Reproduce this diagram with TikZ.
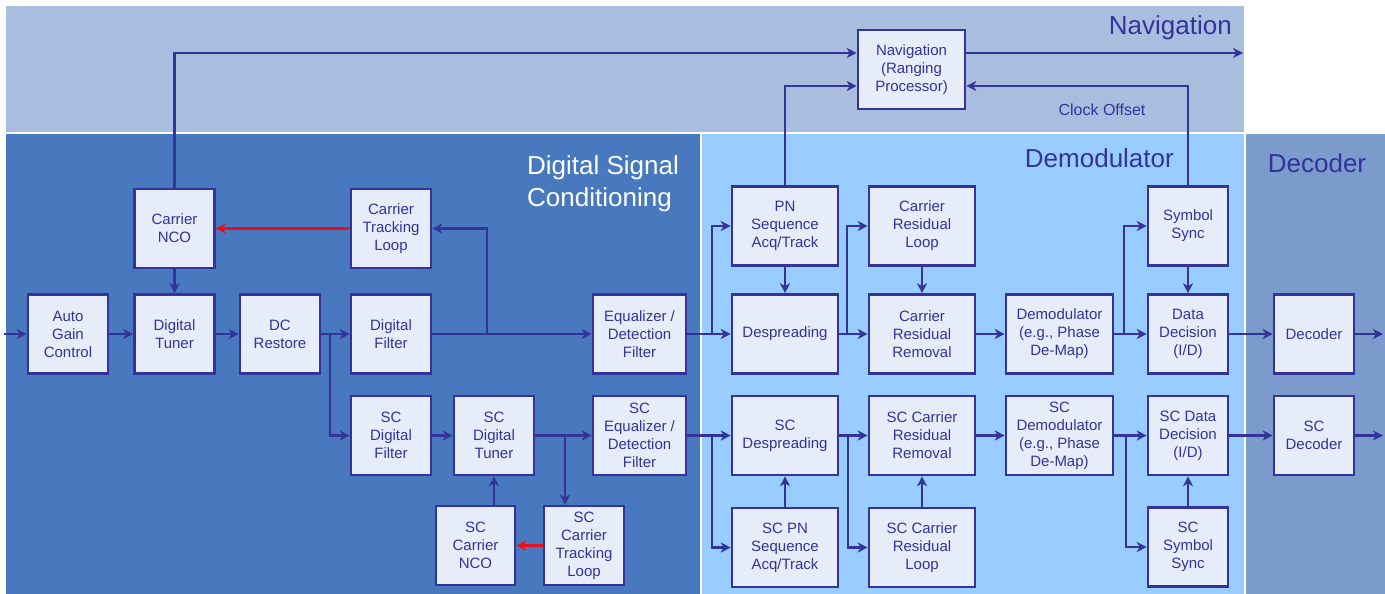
\documentclass[tikz,border=0pt]{standalone}
\usepackage{fontspec}
\setmainfont{Liberation Sans}
\usetikzlibrary{arrows.meta}
\definecolor{navband}{HTML}{A9BEDF}
\definecolor{dscband}{HTML}{4879BF}
\definecolor{demband}{HTML}{99CCFF}
\definecolor{decband}{HTML}{7A9BCB}
\definecolor{boxfill}{HTML}{E6ECF8}
\definecolor{lineblue}{HTML}{333399}
\definecolor{arrowred}{HTML}{E8101A}
\begin{document}
\begin{tikzpicture}[x=1pt,y=-1pt,
  box/.style={draw=lineblue, line width=2.6pt, fill=boxfill, text=lineblue, align=center,
    minimum height=79pt, minimum width=80pt, inner sep=1pt, font=\fontsize{15}{18}\selectfont},
  wbox/.style={box, minimum width=106pt},
  conn/.style={draw=lineblue, line width=2.3pt, -{Stealth[length=10pt,width=10pt,inset=3pt]}},
  redconn/.style={draw=arrowred, line width=2.3pt, -{Stealth[length=10pt,width=10pt,inset=3pt]}},
  band/.style={font=\fontsize{26}{32}\selectfont, inner sep=0pt}]
% backgrounds
\fill[white] (0,0) rectangle (1385,594);
\useasboundingbox (0,0) rectangle (1385,594);
\fill[navband] (6,6) rectangle (1244,132);
\fill[dscband] (6,134) rectangle (700,594);
\fill[demband] (702,134) rectangle (1244,594);
\fill[decband] (1246,134) rectangle (1385,594);
% band labels
\node[band, text=lineblue, anchor=base east] (lnav) at (1232,35) {Navigation};
\node[band, text=white, anchor=north west, align=left] (ldsc) at (527,155) {Digital Signal\\Conditioning};
\node[band, text=lineblue, anchor=base east] (ldem) at (1174,167) {Demodulator};
\node[band, text=lineblue, anchor=base] (ldec) at (1317,172) {Decoder};
% boxes
\node[box] (agc) at (68,334) {Auto\\Gain\\Control};
\node[box] (dt) at (174.5,334) {Digital\\Tuner};
\node[box] (dcr) at (280,334) {DC\\Restore};
\node[box] (df) at (391,334) {Digital\\Filter};
\node[box, minimum width=93pt] (eq) at (639.5,334) {Equalizer /\\Detection\\Filter};
\node[box] (cnco) at (174.5,228.5) {Carrier\\NCO};
\node[box] (ctl) at (391,228.5) {Carrier\\Tracking\\Loop};
\node[box] (scdf) at (391,435.5) {SC\\Digital\\Filter};
\node[box] (scdt) at (494,435.5) {SC\\Digital\\Tuner};
\node[box, minimum width=93pt] (sceq) at (639.5,435.5) {SC\\Equalizer /\\Detection\\Filter};
\node[box, minimum width=79pt] (scnco) at (475.5,545.5) {SC\\Carrier\\NCO};
\node[box] (scctl) at (584,545.5) {SC\\Carrier\\Tracking\\Loop};
\node[wbox] (pn) at (785,226) {PN\\Sequence\\Acq/Track};
\node[wbox] (desp) at (785,334) {Despreading};
\node[wbox] (scdesp) at (785,435.5) {SC\\Despreading};
\node[wbox] (scpn) at (785,547.5) {SC PN\\Sequence\\Acq/Track};
\node[wbox] (crl) at (922,226) {Carrier\\Residual\\Loop};
\node[wbox] (crr) at (922,334) {Carrier\\Residual\\Removal};
\node[wbox] (sccrr) at (922,435.5) {SC Carrier\\Residual\\Removal};
\node[wbox] (sccrl) at (922,547.5) {SC Carrier\\Residual\\Loop};
\node[wbox, minimum width=107pt] (dem) at (1059.5,334) {Demodulator\\(e.g., Phase\\De-Map)};
\node[wbox, minimum width=107pt] (scdem) at (1059.5,435.5) {SC\\Demodulator\\(e.g., Phase\\De-Map)};
\node[box] (ss) at (1188,226) {Symbol\\Sync};
\node[box] (dd) at (1188,334) {Data\\Decision\\(I/D)};
\node[box] (scdd) at (1188,435.5) {SC Data\\Decision\\(I/D)};
\node[box] (scss) at (1188,547) {SC\\Symbol\\Sync};
\node[box] (dec) at (1314,334) {Decoder};
\node[box] (scdec) at (1314,435.5) {SC\\Decoder};
\node[wbox, minimum width=107pt] (nav) at (911.5,69.5) {Navigation\\(Ranging\\Processor)};
\node[text=lineblue, font=\fontsize{16}{18}\selectfont] (clk) at (1102,110) {Clock Offset};
% free ends and branch points
\coordinate (in) at (4,334);
\coordinate (navout) at (1243,53);
\coordinate (decout) at (1383,334);
\coordinate (scdecout) at (1383,435.5);
\coordinate (b1) at (330,334);
\coordinate (b2) at (487,334);
\coordinate (b3) at (565,435.5);
\coordinate (b4) at (712,334);
\coordinate (b5) at (712,435.5);
\coordinate (b6) at (847,334);
\coordinate (b7) at (848,435.5);
\coordinate (b8) at (1124,334);
\coordinate (b9) at (1126,435.5);
% main path
\draw[conn] (in) -- (agc);
\draw[conn] (agc) -- (dt);
\draw[conn] (dt) -- (dcr);
\draw[conn] (dcr) -- (df);
\draw[conn] (b1) |- (scdf);
\draw[conn] (df) -- (eq);
\draw[conn] (b2) |- (ctl);
\draw[redconn] (ctl) -- (cnco);
\draw[conn] (cnco) -- (dt);
\draw[conn] (cnco.north) |- ([yshift=16.5pt]nav.west);
\draw[conn] ([yshift=16.5pt]nav.east) -- (navout);
\draw[conn] (pn.north) |- ([yshift=-16.5pt]nav.west);
\draw[conn] (ss.north) |- ([yshift=-16.5pt]nav.east);
\draw[conn] (eq) -- (desp);
\draw[conn] (b4) |- (pn);
\draw[conn] (pn) -- (desp);
\draw[conn] (desp) -- (crr);
\draw[conn] (b6) |- (crl);
\draw[conn] (crl) -- (crr);
\draw[conn] (crr) -- (dem);
\draw[conn] (dem) -- (dd);
\draw[conn] (b8) |- (ss);
\draw[conn] (ss) -- (dd);
\draw[conn] (dd) -- (dec);
\draw[conn] (dec) -- (decout);
% SC path
\draw[conn] (scdf) -- (scdt);
\draw[conn] (scdt) -- (sceq);
\draw[conn] (b3) -- (b3 |- scctl.north);
\draw[redconn] (scctl) -- (scnco);
\draw[conn] (scdt |- scnco.north) -- (scdt.south);
\draw[conn] (sceq) -- (scdesp);
\draw[conn] (b5) |- (scpn);
\draw[conn] (scpn) -- (scdesp);
\draw[conn] (scdesp) -- (sccrr);
\draw[conn] (b7) |- (sccrl);
\draw[conn] (sccrl) -- (sccrr);
\draw[conn] (sccrr) -- (scdem);
\draw[conn] (scdem) -- (scdd);
\draw[conn] (b9) |- (scss);
\draw[conn] (scss) -- (scdd);
\draw[conn] (scdd) -- (scdec);
\draw[conn] (scdec) -- (scdecout);
\end{tikzpicture}
\end{document}
